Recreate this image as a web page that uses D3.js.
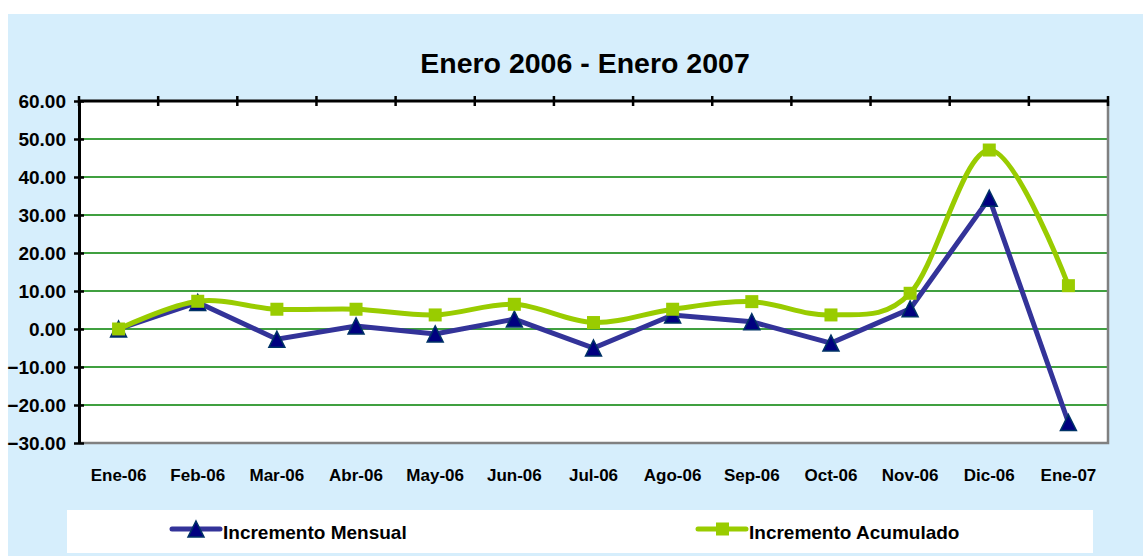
<!DOCTYPE html>
<meta charset="utf-8">
<head>
<script src="https://d3js.org/d3.v7.min.js"></script>
<style>
  body { margin: 0; background: #fff; }
  text { font-family: "Liberation Sans", Arial, sans-serif; font-weight: bold; fill: #000; }
</style>
</head>
<body>
<div class="viz"></div>
<script>
var width = 1143, height = 556;

var months = ["Ene-06", "Feb-06", "Mar-06", "Abr-06", "May-06", "Jun-06", "Jul-06",
              "Ago-06", "Sep-06", "Oct-06", "Nov-06", "Dic-06", "Ene-07"];
var mensual = [0, 7, -2.7, 0.8, -1.3, 2.6, -5.0, 3.7, 1.9, -3.7, 5.3, 34.4, -24.6];
var acumulado = [0, 7.3, 5.2, 5.2, 3.7, 6.5, 1.7, 5.2, 7.2, 3.7, 9.4, 47.1, 11.4];
var yTicks = [60, 50, 40, 30, 20, 10, 0, -10, -20, -30];

var m = { left: 79, right: 1108, top: 101, bottom: 443 };

var svg = d3.select("div.viz").append("svg")
    .attr("width", width)
    .attr("height", height);

// light blue chart area
svg.append("rect").attr("x", 8).attr("y", 14)
    .attr("width", width - 8).attr("height", height - 14)
    .attr("fill", "#d6eefc");

svg.append("text")
    .attr("x", 585).attr("y", 73)
    .attr("text-anchor", "middle")
    .style("font-size", "28.5px")
    .text("Enero 2006 - Enero 2007");

var x = d3.scaleBand().domain(months).range([m.left, m.right]);
var y = d3.scaleLinear().domain([-30, 60]).range([m.bottom, m.top]);

// plot area
svg.append("rect").attr("x", m.left).attr("y", m.top)
    .attr("width", m.right - m.left).attr("height", m.bottom - m.top)
    .attr("fill", "#fff");

// grid
svg.selectAll("line.grid").data(yTicks.filter(function(d) { return d > -30 && d < 60; }))
  .enter().append("line")
    .attr("x1", m.left).attr("x2", m.right)
    .attr("y1", function(d) { return y(d); }).attr("y2", function(d) { return y(d); })
    .attr("stroke", "#008000").attr("stroke-width", 1.5);

// border bottom/right grey
svg.append("path")
    .attr("d", "M" + m.left + "," + m.bottom + "H" + m.right + "V" + m.top)
    .attr("fill", "none").attr("stroke", "#808080").attr("stroke-width", 2.5);

// y axis
var yAxis = svg.append("g").attr("transform", "translate(" + m.left + ",0)")
    .call(d3.axisLeft(y).tickValues(yTicks).tickSize(0).tickPadding(13)
      .tickFormat(d3.format(".2f")));
yAxis.select(".domain").attr("stroke", "#000").attr("stroke-width", 3);
yAxis.selectAll("text").style("font-size", "19px").attr("fill", "#000").style("font-family", null);
yAxis.selectAll(".tick").append("line")
    .attr("x1", -5).attr("x2", 5).attr("stroke", "#000").attr("stroke-width", 2.5);

// category axis crossing at the top
var xTop = svg.append("g").attr("transform", "translate(0," + m.top + ")");
xTop.append("line").attr("x1", m.left).attr("x2", m.right)
    .attr("stroke", "#000").attr("stroke-width", 3);
xTop.selectAll("line.tk").data(months.concat(["end"])).enter().append("line")
    .attr("x1", function(d, i) { return m.left + i * x.step(); })
    .attr("x2", function(d, i) { return m.left + i * x.step(); })
    .attr("y1", -5).attr("y2", 5)
    .attr("stroke", "#000").attr("stroke-width", 2.5);

// category labels at bottom
svg.selectAll("text.month").data(months).enter().append("text")
    .attr("x", function(d) { return x(d) + x.bandwidth() / 2; })
    .attr("y", 481)
    .attr("text-anchor", "middle")
    .style("font-size", "17px")
    .text(function(d) { return d; });

var cx = function(d, i) { return x(months[i]) + x.bandwidth() / 2; };

var lineAcum = d3.line().x(cx).y(function(d) { return y(d); }).curve(d3.curveCardinal.tension(0));
var lineMens = d3.line().x(cx).y(function(d) { return y(d); });

// triangle centred on its bounding box, like the spreadsheet markers
var triType = {
  draw: function(ctx, size) {
    var h = Math.sqrt(size);
    ctx.moveTo(0, -h / 2);
    ctx.lineTo(h / 2, h / 2);
    ctx.lineTo(-h / 2, h / 2);
    ctx.closePath();
  }
};
var tri = d3.symbol().type(triType).size(256);

svg.append("path").attr("d", lineMens(mensual))
    .attr("fill", "none").attr("stroke", "#333399").attr("stroke-width", 5);
svg.selectAll("path.tri").data(mensual).enter().append("path")
    .attr("d", tri)
    .attr("transform", function(d, i) { return "translate(" + cx(d, i) + "," + y(d) + ")"; })
    .attr("fill", "#000080").attr("stroke", "#003366").attr("stroke-width", 1.5);

svg.append("path").attr("d", lineAcum(acumulado))
    .attr("fill", "none").attr("stroke", "#99cc00").attr("stroke-width", 5);
svg.selectAll("rect.sq").data(acumulado).enter().append("rect")
    .attr("x", function(d, i) { return cx(d, i) - 6.5; })
    .attr("y", function(d) { return y(d) - 6.5; })
    .attr("width", 13).attr("height", 13)
    .attr("fill", "#99cc00");

// legend
svg.append("rect").attr("x", 67).attr("y", 510).attr("width", 1026).attr("height", 43)
    .attr("fill", "#fff");

var leg = [
  { name: "Incremento Mensual", x: 172, color: "#333399", mark: "tri" },
  { name: "Incremento Acumulado", x: 698, color: "#99cc00", mark: "sq" }
];
leg.forEach(function(l) {
  var ly = 529;
  svg.append("line").attr("x1", l.x).attr("x2", l.x + 48).attr("y1", ly).attr("y2", ly)
      .attr("stroke", l.color).attr("stroke-width", 5).attr("stroke-linecap", "round");
  if (l.mark == "tri") {
    svg.append("path").attr("d", tri).attr("transform", "translate(" + (l.x + 24) + "," + ly + ")")
        .attr("fill", "#000080").attr("stroke", "#003366").attr("stroke-width", 1.5);
  } else {
    svg.append("rect").attr("x", l.x + 18).attr("y", ly - 6.5).attr("width", 13).attr("height", 13)
        .attr("fill", l.color);
  }
  svg.append("text").attr("x", l.x + 51).attr("y", 539)
      .style("font-size", "19px")
      .text(l.name);
});
</script>
</body>
